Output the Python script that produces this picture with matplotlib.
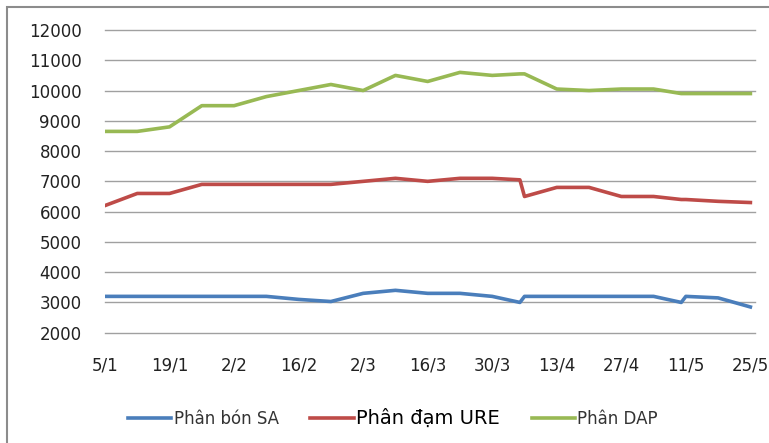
import matplotlib
matplotlib.use('Agg')
import matplotlib.pyplot as plt
from matplotlib.patches import Rectangle
from datetime import datetime

# ngày quan sát (ngày/tháng)
dates = ['5/1', '12/1', '19/1', '26/1', '2/2', '9/2', '16/2', '23/2', '2/3', '9/3',
         '16/3', '23/3', '30/3', '5/4', '6/4', '13/4', '20/4', '27/4', '4/5', '10/5',
         '11/5', '18/5', '25/5']
sa = [3200, 3200, 3200, 3200, 3200, 3200, 3100, 3030, 3300, 3400,
      3300, 3300, 3200, 3000, 3200, 3200, 3200, 3200, 3200, 3000,
      3200, 3150, 2850]
ure = [6200, 6600, 6600, 6900, 6900, 6900, 6900, 6900, 7000, 7100,
       7000, 7100, 7100, 7050, 6500, 6800, 6800, 6500, 6500, 6400,
       6400, 6340, 6300]
dap = [8650, 8650, 8800, 9500, 9500, 9800, 10000, 10200, 10000, 10500,
       10300, 10600, 10500, 10550, 10550, 10050, 10000, 10050, 10050, 9900,
       9900, 9900, 9900]
tick_labels = ['5/1', '19/1', '2/2', '16/2', '2/3', '16/3', '30/3', '13/4', '27/4', '11/5', '25/5']

def to_date(s):
    d, m = s.split('/')
    return datetime(2011, int(m), int(d))

x = [to_date(s) for s in dates]
ticks = [to_date(s) for s in tick_labels]

fig = plt.figure(figsize=(7.69, 4.43), dpi=100)
fig.patches.append(Rectangle((7 / 769, -0.1), 1.2, 1 - 7 / 443 + 0.1, transform=fig.transFigure,
                             fill=False, edgecolor='#8c8c8c', linewidth=1.5))
ax = fig.add_axes([105 / 769, 1 - 332.7 / 443, 650 / 769, (332.7 - 30) / 443])

ax.plot(x, sa, color='#4A7EBB', lw=2.6, label='Phân bón SA', solid_joinstyle='round')
ax.plot(x, ure, color='#BE4B48', lw=2.6, label='Phân đạm URE', solid_joinstyle='round')
ax.plot(x, dap, color='#98B954', lw=2.6, label='Phân DAP', solid_joinstyle='round')

ax.set_ylim(2000, 12000)
ax.set_yticks(range(2000, 12001, 1000))
ax.set_xlim(x[0], datetime(2011, 5, 26))
ax.set_xticks(ticks)
ax.set_xticklabels(tick_labels)
ax.grid(axis='y', color='#a0a0a0', lw=1)
for gl in ax.get_ygridlines():
    gl.set_clip_on(False)
ax.set_axisbelow(True)
for s in ax.spines.values():
    s.set_visible(False)
ax.tick_params(length=0, labelsize=12, labelcolor='#222222')
ax.tick_params(axis='y', pad=17)
ax.tick_params(axis='x', pad=17)
for lab in ax.get_xticklabels():
    lab.set_clip_on(False)

leg = fig.legend(loc='center', bbox_to_anchor=(393 / 769, 1 - 418 / 443), ncol=3, frameon=False,
                 fontsize=12, handlelength=2.6, handletextpad=0.15, columnspacing=1.9)
texts = leg.get_texts()
texts[0].set_color('#333333')
texts[2].set_color('#333333')
texts[1].set_fontsize(14)
texts[1].set_color('black')

fig.savefig('out.png', dpi=100)
